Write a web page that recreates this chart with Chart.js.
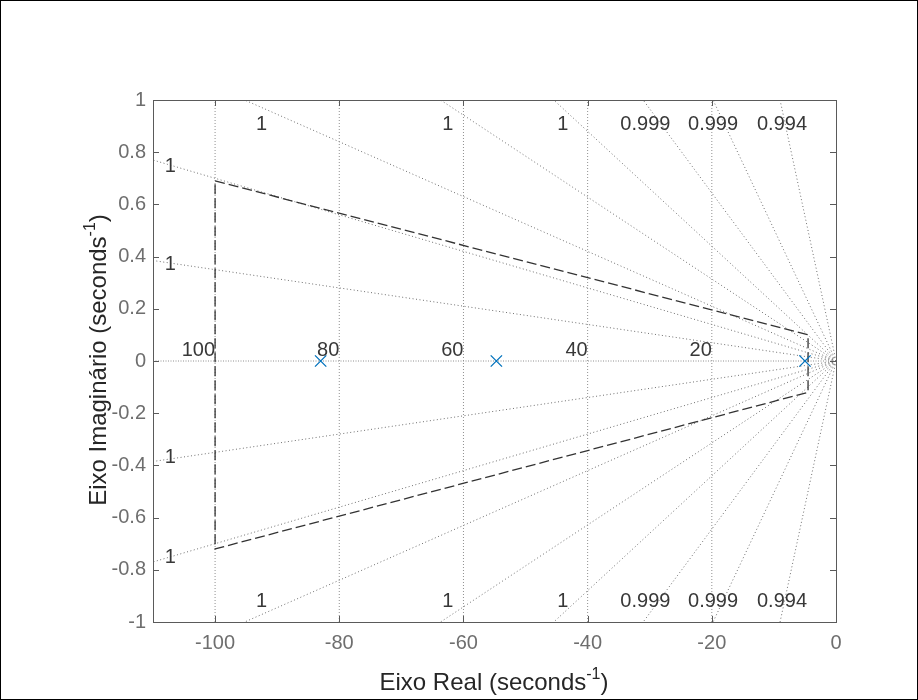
<!DOCTYPE html>
<html>
<head>
<meta charset="utf-8">
<script src="https://cdn.jsdelivr.net/npm/chart.js@4.4.0/dist/chart.umd.min.js"></script>
<style>
html, body { margin: 0; padding: 0; background: #fff; }
#wrap { width: 918px; height: 700px; }
</style>
</head>
<body>
<div id="wrap"><canvas id="grafico" width="918" height="700"></canvas></div>
<script>
// eixos
var xTicks = [-100, -80, -60, -40, -20, 0];
var yTicks = [-1, -0.8, -0.6, -0.4, -0.2, 0, 0.2, 0.4, 0.6, 0.8, 1];

// polos (parte real / imaginaria)
var polosReal = [-83, -54.7, -5];
var polosImag = [0, 0, 0];

// regiao desejada (contorno tracejado)
var regiaoReal = [-100, -4.5, -4.5, -100, -100];
var regiaoImag = [0.69, 0.1, -0.12, -0.72, 0.69];

// sgrid: frequencias naturais e inclinacoes das retas de amortecimento
var wnGrade = [20, 40, 60, 80, 100];
var inclinacoes = [0.0035, 0.007, 0.0105, 0.0157, 0.022, 0.0322, 0.0505, 0.111];

// rotulos de amortecimento
var zetaTexto = ['1', '1', '1', '0.999', '0.999', '0.994'];
var zetaX = [-92.5, -62.5, -44, -30.7, -19.8, -8.7];
var zetaYTopo = 0.906;
var zetaYBase = -0.921;
var zetaEsqTexto = ['1', '1', '1', '1'];
var zetaEsqY = [0.746, 0.371, -0.371, -0.753];
var zetaEsqX = -107.2;

var fonte = '"Liberation Sans", Arial, Helvetica, sans-serif';

function montaDatasets() {
    var ds = [];
    // linha zeta = 1 (eixo real)
    ds.push({ data: [{x: -110, y: 0}, {x: 0, y: 0}], borderColor: '#909090', borderDash: [1, 1.5], order: 3 });
    wnGrade.forEach(function(wn) {
        ds.push({ data: [{x: -wn, y: -1}, {x: -wn, y: 1}], borderColor: '#909090', borderDash: [1, 2], order: 3 });
    });
    inclinacoes.forEach(function(s) {
        var xf = Math.max(-110, -1 / s);
        ds.push({ data: [{x: 0, y: 0}, {x: xf, y: -s * xf}], borderColor: '#6e6e6e', borderDash: [1, 2.5], order: 3 });
        ds.push({ data: [{x: 0, y: 0}, {x: xf, y: s * xf}], borderColor: '#6e6e6e', borderDash: [1, 2.5], order: 3 });
    });
    ds.forEach(function(d) {
        d.showLine = true; d.pointRadius = 0; d.borderWidth = 1; d.fill = false;
    });
    // contorno da regiao
    ds.push({
        data: regiaoReal.map(function(v, i) { return {x: v, y: regiaoImag[i]}; }),
        showLine: true, pointRadius: 0, borderColor: '#333333', borderWidth: 1.3,
        borderDash: [10, 4], fill: false, order: 1
    });
    // polos
    ds.push({
        data: polosReal.map(function(v, i) { return {x: v, y: polosImag[i]}; }),
        showLine: false, pointStyle: 'crossRot', pointRadius: 8,
        borderColor: '#0072BD', backgroundColor: '#0072BD', pointBorderWidth: 1.3, order: 0
    });
    return ds;
}

function textoExpoente(ctx, base, expo, fim, x, y, tam, cor) {
    var grande = tam + 'px ' + fonte;
    var pequeno = Math.round(tam * 0.68) + 'px ' + fonte;
    ctx.font = grande;
    var w1 = ctx.measureText(base).width;
    var w3 = ctx.measureText(fim).width;
    ctx.font = pequeno;
    var w2 = ctx.measureText(expo).width;
    var x0 = x - (w1 + w2 + w3) / 2;
    ctx.fillStyle = cor;
    ctx.textAlign = 'left';
    ctx.textBaseline = 'alphabetic';
    ctx.font = grande;
    ctx.fillText(base, x0, y);
    ctx.font = pequeno;
    ctx.fillText(expo, x0 + w1, y - tam * 0.45);
    ctx.font = grande;
    ctx.fillText(fim, x0 + w1 + w2, y);
}

var molduraPlugin = {
    id: 'moldura',
    afterDatasetsDraw: function(chart) {
        var ctx = chart.ctx, a = chart.chartArea;
        var xs = chart.scales.x, ys = chart.scales.y;
        ctx.save();
        // rotulos de wn
        ctx.fillStyle = '#383838';
        ctx.font = '20px ' + fonte;
        ctx.textAlign = 'right';
        ctx.textBaseline = 'alphabetic';
        wnGrade.forEach(function(wn) {
            ctx.fillText(String(wn), xs.getPixelForValue(-wn), ys.getPixelForValue(0) - 5);
        });
        // rotulos de zeta
        ctx.textAlign = 'center';
        ctx.textBaseline = 'middle';
        zetaTexto.forEach(function(t, i) {
            ctx.fillText(t, xs.getPixelForValue(zetaX[i]), ys.getPixelForValue(zetaYTopo));
            ctx.fillText(t, xs.getPixelForValue(zetaX[i]), ys.getPixelForValue(zetaYBase));
        });
        zetaEsqTexto.forEach(function(t, i) {
            ctx.fillText(t, xs.getPixelForValue(zetaEsqX), ys.getPixelForValue(zetaEsqY[i]));
        });
        // caixa e marcas
        ctx.strokeStyle = '#5a5a5a';
        ctx.lineWidth = 1;
        ctx.strokeRect(Math.round(a.left) + 0.5, Math.round(a.top) + 0.5, Math.round(a.width), Math.round(a.height));
        ctx.beginPath();
        xTicks.forEach(function(v) {
            var p = Math.round(xs.getPixelForValue(v)) + 0.5;
            ctx.moveTo(p, a.bottom); ctx.lineTo(p, a.bottom - 6);
            ctx.moveTo(p, a.top); ctx.lineTo(p, a.top + 6);
        });
        yTicks.forEach(function(v) {
            var p = Math.round(ys.getPixelForValue(v)) + 0.5;
            ctx.moveTo(a.left, p); ctx.lineTo(a.left + 6, p);
            ctx.moveTo(a.right, p); ctx.lineTo(a.right - 6, p);
        });
        ctx.stroke();
        ctx.restore();
    },
    afterDraw: function(chart) {
        var ctx = chart.ctx;
        ctx.save();
        textoExpoente(ctx, 'Eixo Real (seconds', '-1', ')', 494, 690, 24, '#262626');
        ctx.translate(106, 360);
        ctx.rotate(-Math.PI / 2);
        textoExpoente(ctx, 'Eixo Imaginário (seconds', '-1', ')', 0, 0, 24, '#262626');
        ctx.restore();
        ctx.save();
        ctx.strokeStyle = '#000';
        ctx.lineWidth = 1;
        ctx.strokeRect(0.5, 0.5, 917, 699);
        ctx.restore();
    }
};

var ctx = document.getElementById('grafico').getContext('2d');
var chart = new Chart(ctx, {
    type: 'scatter',
    data: { datasets: montaDatasets() },
    options: {
        responsive: false,
        animation: false,
        layout: { padding: { left: 0, top: 100, right: 82, bottom: 0 } },
        plugins: { legend: { display: false }, tooltip: { enabled: false } },
        scales: {
            x: {
                type: 'linear', min: -110, max: 0,
                grid: { display: false, drawTicks: false },
                border: { display: false },
                afterBuildTicks: function(s) { s.ticks = xTicks.map(function(v) { return {value: v}; }); },
                afterFit: function(s) { s.height = 78; },
                ticks: {
                    color: '#6e6e6e', font: { size: 20, family: fonte }, padding: 9,
                    maxRotation: 0, autoSkip: false,
                    callback: function(v) { return String(v); }
                }
            },
            y: {
                type: 'linear', min: -1, max: 1,
                grid: { display: false, drawTicks: false },
                border: { display: false },
                afterBuildTicks: function(s) { s.ticks = yTicks.map(function(v) { return {value: v}; }); },
                afterFit: function(s) { s.width = 153; },
                ticks: {
                    color: '#6e6e6e', font: { size: 20, family: fonte }, padding: 7,
                    autoSkip: false,
                    callback: function(v) { return String(v); }
                }
            }
        }
    },
    plugins: [molduraPlugin]
});
</script>
</body>
</html>
